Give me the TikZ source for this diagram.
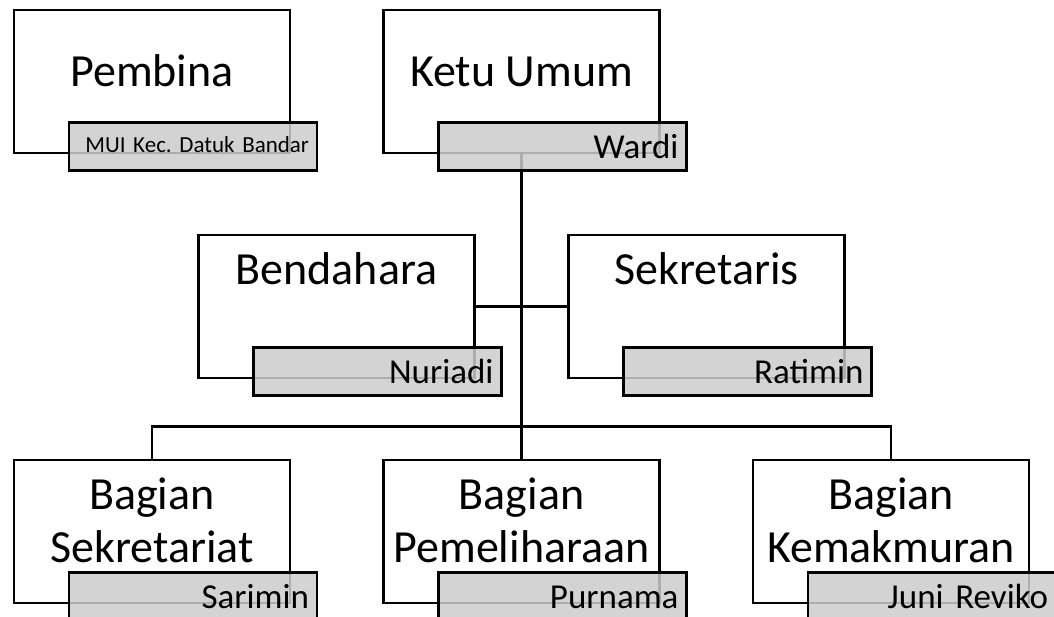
\documentclass[tikz,border=0pt]{standalone}
\usepackage{fontspec}
\setmainfont{Carlito}
\usetikzlibrary{positioning, calc, backgrounds}
\frenchspacing

\begin{document}
\begin{tikzpicture}[
  x=1pt, y=1pt,
  post/.style={rectangle, draw=black, line width=2.5pt, fill=white, minimum width=276pt, minimum height=143pt, inner sep=0pt},
  ttl/.style={font=\fontsize{46}{53}\selectfont, align=center, inner sep=0pt},
  who/.style={rectangle, draw=black, line width=2.5pt, fill=black!20, fill opacity=0.85, draw opacity=1, text opacity=1, minimum width=248pt, minimum height=48pt, text width=232pt, inner xsep=8pt, inner ysep=0pt, align=right, text height=25pt, text depth=0pt, font=\fontsize{35}{40}\selectfont},
  link/.style={line width=2.5pt},
]
\useasboundingbox (0,0) rectangle (1054,617);

% top row
\node[post] (pembina) at (152,535.5) {};
\node[ttl, anchor=base] (pembinaT) at (152,530) {Pembina};
\node[who, anchor=north west, font=\fontsize{23}{28}\selectfont, text height=12pt] (pembinaN) at ($(pembina.south west)+(55,33)$) {MUI Kec. Datuk Bandar};

\node[post] (ketu) at (521.5,535.5) {};
\node[ttl, anchor=base] (ketuT) at (521.5,530) {Ketu Umum};
\node[who, anchor=north west] (ketuN) at ($(ketu.south west)+(55,33)$) {Wardi};

% middle row
\node[post] (bendahara) at (336.5,310.5) {};
\node[ttl, anchor=base] (bendaharaT) at (336.5,332) {Bendahara};
\node[who, anchor=north west] (bendaharaN) at ($(bendahara.south west)+(55,33)$) {Nuriadi};

\node[post] (sekretaris) at (706.5,310.5) {};
\node[ttl, anchor=base] (sekretarisT) at (706.5,332) {Sekretaris};
\node[who, anchor=north west] (sekretarisN) at ($(sekretaris.south west)+(55,33)$) {Ratimin};

% bottom row (base = last line)
\node[post] (sekretariat) at (152,85.5) {};
\node[ttl, anchor=base] (sekretariatT) at (152,54) {Bagian\\Sekretariat};
\node[who, anchor=north west] (sekretariatN) at ($(sekretariat.south west)+(55,33)$) {Sarimin};

\node[post] (pemeliharaan) at (521.5,85.5) {};
\node[ttl, anchor=base] (pemeliharaanT) at (521.5,54) {Bagian\\Pemeliharaan};
\node[who, anchor=north west] (pemeliharaanN) at ($(pemeliharaan.south west)+(55,33)$) {Purnama};

\node[post] (kemakmuran) at (891,85.5) {};
\node[ttl, anchor=base] (kemakmuranT) at (891,54) {Bagian\\Kemakmuran};
\node[who, anchor=north west] (kemakmuranN) at ($(kemakmuran.south west)+(55,33)$) {Juni Reviko};

% lines
\begin{scope}[on background layer]
\draw[link] (ketu.south) -- (pemeliharaan.north);
\draw[link] (bendahara.east) -- (sekretaris.west);
\draw[link] (sekretariat.north) -- ++(0,32) -| (kemakmuran.north);
\end{scope}
\end{tikzpicture}
\end{document}
